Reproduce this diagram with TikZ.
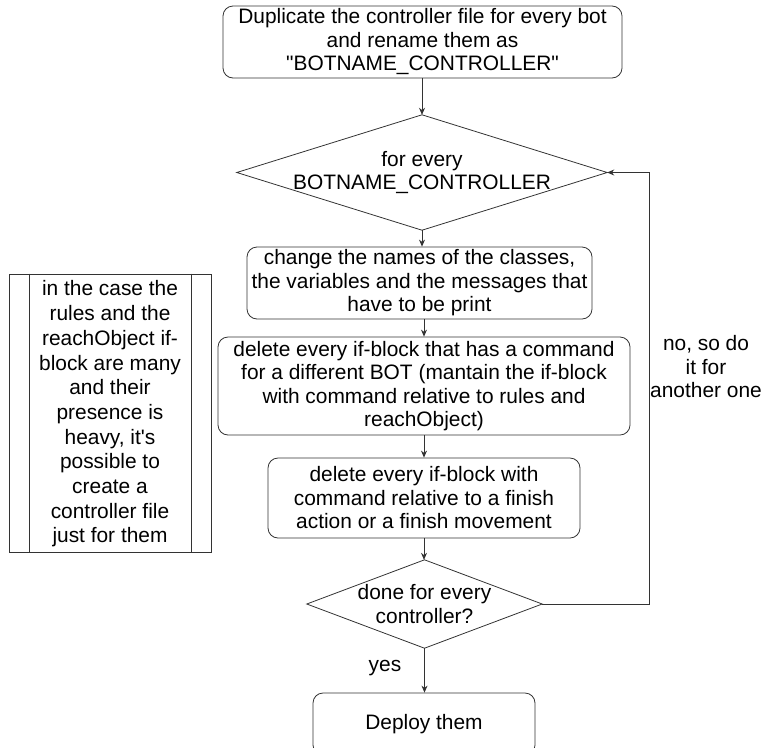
\documentclass[tikz,border=0pt]{standalone}
\usepackage{fontspec}
\setmainfont{Liberation Sans}
\usetikzlibrary{arrows.meta}
\begin{document}
\begin{tikzpicture}[x=1pt,y=-1pt,
  font=\fontsize{20.9}{23.5}\selectfont,
  line/.style={draw=black!80, line width=0.8pt},
  arr/.style={line, -{Stealth[length=7pt,width=6pt]}},
  stepbox/.style={line, rounded corners=10pt, align=center, inner sep=0pt},
  decision/.style={align=center, inner sep=0pt},
  txt/.style={align=center, inner sep=0pt}]
\useasboundingbox (0,0) rectangle (767,747);

% process boxes
\node[stepbox, minimum width=399pt, minimum height=72pt] (dup) at (422.5,42)
  {Duplicate the controller file for every bot\\and rename them as\\\textquotedbl BOTNAME\_CONTROLLER\textquotedbl};
\node[decision, minimum width=370pt, minimum height=115pt] (each) at (422,172.5)
  {for every\\BOTNAME\_CONTROLLER};
\node[stepbox, minimum width=345pt, minimum height=72pt] (rename) at (419.5,283)
  {change the names of the classes,\\the variables and the messages that\\have to be print};
\node[stepbox, minimum width=412pt, minimum height=98pt] (delbot) at (424,386)
  {delete every if-block that has a command\\for a different BOT (mantain the if-block\\with command relative to rules and\\reachObject)};
\node[stepbox, minimum width=312pt, minimum height=80pt] (delfin) at (424,498)
  {delete every if-block with\\command relative to a finish\\action or a finish movement};
\node[decision, minimum width=235pt, minimum height=88pt] (done) at (424.5,604)
  {done for every\\controller?};
\node[stepbox, minimum width=222pt, minimum height=62pt] (deploy) at (424,724)
  {Deploy them};

% decision outlines
\draw[line] (each.north) -- (each.east) -- (each.south) -- (each.west) -- cycle;
\draw[line] (done.north) -- (done.east) -- (done.south) -- (done.west) -- cycle;

% side note with double vertical bars
\node[line, minimum width=202pt, minimum height=278pt, inner sep=0pt] (note) at (110,413) {};
\node[txt, font=\fontsize{20.9}{24.7}\selectfont] (notetext) at (110,414)
  {in the case the\\rules and the\\reachObject if-\\block are many\\and their\\presence is\\heavy, it\textquotesingle s\\possible to\\create a\\controller file\\just for them};
\draw[line] ([xshift=21pt]note.north west) -- ([xshift=21pt]note.south west);
\draw[line] ([xshift=-20pt]note.north east) -- ([xshift=-20pt]note.south east);

% connectors
\draw[arr] (dup.south -| each.north) -- (each.north);
\draw[arr] (each.south) -- (each.south |- rename.north);
\draw[arr] (rename.south -| delbot.north) -- (delbot.north);
\draw[arr] (delbot.south) -- (delfin.north);
\draw[arr] (delfin.south) -- (delfin.south |- done.north);
\draw[arr] (done.south) -- (done.south |- deploy.north);
\coordinate (loopx) at (649,0);
\draw[arr] (done.east) -- (done.east -| loopx) |- (each.east);

% branch labels
\node[txt] (yes) at (385,668) {yes};
\node[txt] (no) at (706,367) {no, so do\\it for\\another one};
\end{tikzpicture}
\end{document}
